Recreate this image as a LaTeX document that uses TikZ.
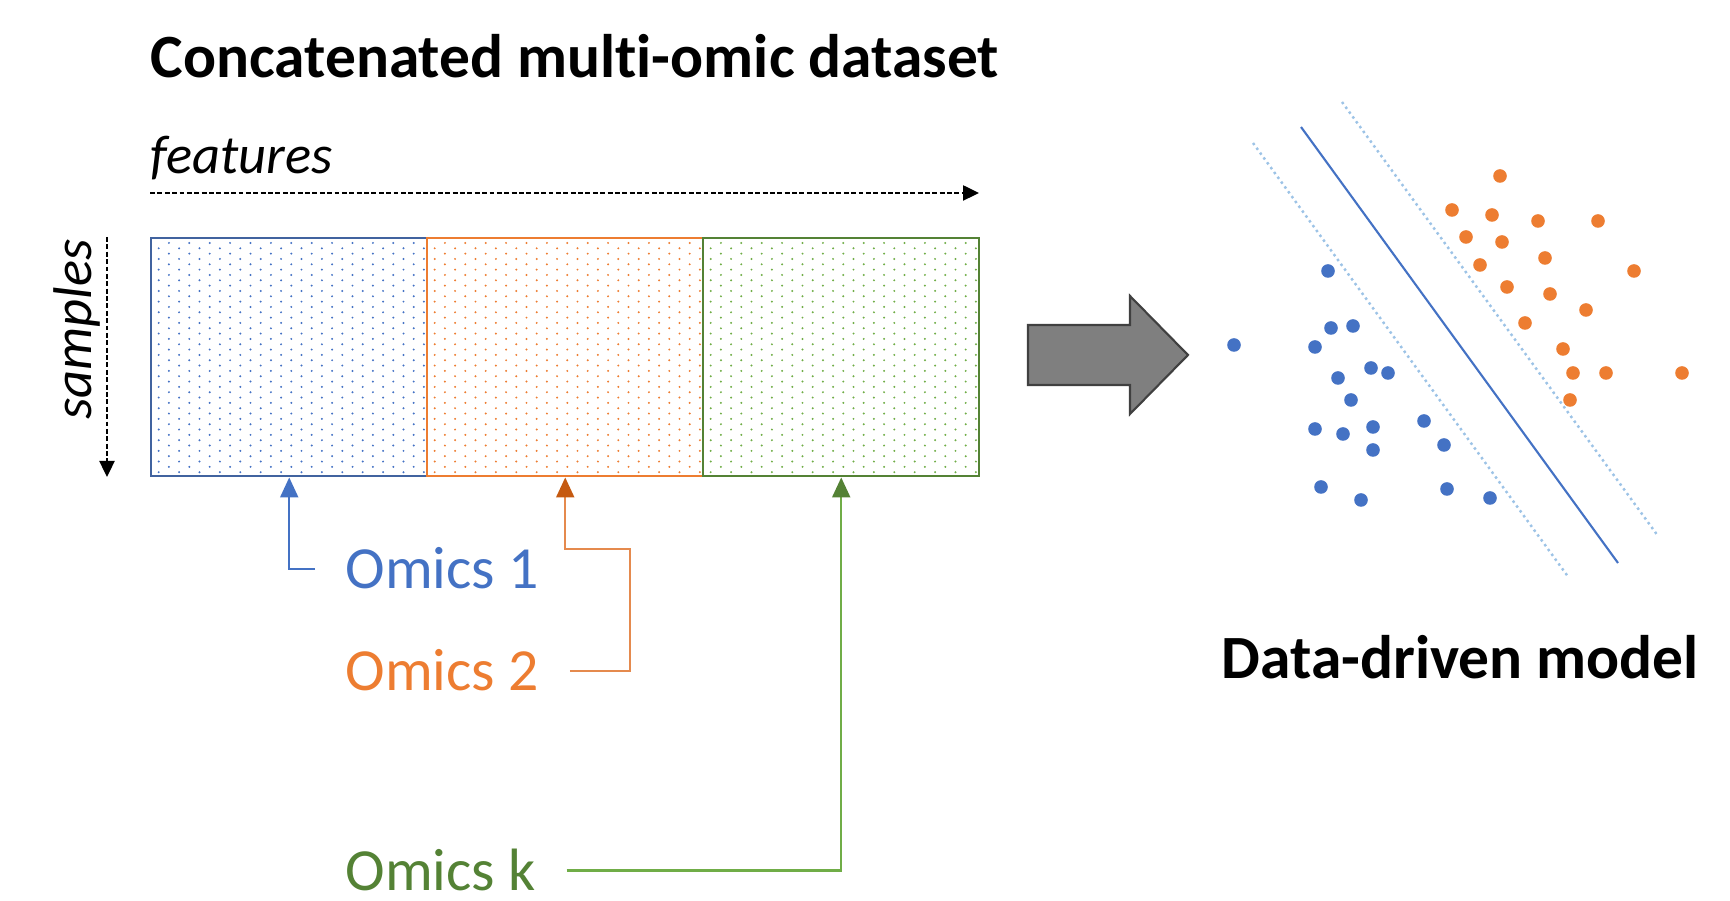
\documentclass[tikz,border=0pt]{standalone}
\usepackage{xcolor}
\usepackage{fontspec}
\setmainfont{Carlito}[Ligatures=NoCommon]
\usepackage{tikz}
\usetikzlibrary{positioning, arrows.meta}

\definecolor{omicblue}{HTML}{4472C4}
\definecolor{omicblueline}{HTML}{41639F}
\definecolor{omicorange}{HTML}{ED7D31}
\definecolor{omicorangedark}{HTML}{C55A11}
\definecolor{omicorangeline}{HTML}{E58A4E}
\definecolor{omicgreen}{HTML}{70AD47}
\definecolor{omicgreendark}{HTML}{548235}
\definecolor{svmlight}{HTML}{9DC3E6}
\definecolor{arrowgray}{HTML}{7F7F7F}

% dotted fill of one block: left x, right x, dot colour
\newcommand{\omicdots}[3]{%
  \begin{scope}
    \clip (#1,237) rectangle (#2,475);
    \foreach \r in {0,...,44}{
      \pgfmathsetmacro{\rowy}{243+5.33*\r}
      \pgfmathsetmacro{\rowx}{#1+8.7+10.2*mod(\r+1,2)}
      \foreach \c in {0,...,13}
        \fill[#3] (\rowx+20.4*\c,\rowy) circle (0.11mm);
    }
  \end{scope}}

\begin{document}
\begin{tikzpicture}[
        x=0.1mm, y=-0.1mm, % one unit = one pixel of the layout
        % --- Customize Your Sizing Globally Right Here ---
        heading/.style={font=\fontsize{17.5}{20}\selectfont\bfseries, inner sep=0, anchor=base west},
        axislabel/.style={font=\fontsize{15.5}{18}\selectfont\itshape, inner sep=0, anchor=base west},
        omiclabel/.style={font=\fontsize{17}{20}\selectfont, inner xsep=3mm, inner ysep=0, anchor=base west},
        omicbox/.style={draw, line width=0.7pt, minimum width=27.6mm, minimum height=23.8mm,
                        anchor=north west, inner sep=0},
        dasharrow/.style={-{Triangle[length=1.6mm, width=1.5mm]}, line width=0.7pt,
                          dash pattern=on 1.4pt off 0.7pt},
        linkarrow/.style={line width=0.6pt},
        svmline/.style={omicblue, line width=0.6pt},
        svmmargin/.style={svmlight, line width=0.7pt, densely dotted}
    ]
    \useasboundingbox (0,0) rectangle (1730,901);

    % ==================== 1. DATASET ====================
    \node[heading] (title) at (150,78) {Concatenated multi-omic dataset};
    \node[axislabel] (features) at (150,174) {features};
    \node[axislabel, rotate=90] (samples) at (92,420) {samples};

    \coordinate (featL) at (150,193);
    \coordinate (featR) at (979,193);
    \coordinate (sampT) at (107,237);
    \coordinate (sampB) at (107,477);
    \draw[dasharrow] (featL) -- (featR);
    \draw[dasharrow] (sampT) -- (sampB);

    % blocks, left to right
    \omicdots{150}{426}{omicblue}
    \omicdots{426}{702}{omicorange}
    \omicdots{702}{979}{omicgreen}
    \node[omicbox, draw=omicblueline]  (omic1) at (150,237) {};
    \node[omicbox, draw=omicorange]    (omic2) at (426,237) {};
    \node[omicbox, draw=omicgreendark] (omic3) at (702,237) {};

    % ==================== 2. OMICS LABELS ====================
    \node[omiclabel, text=omicblue]      (lab1) at (315,589) {Omics 1};
    \node[omiclabel, text=omicorange]    (lab2) at (315,691) {Omics 2};
    \node[omiclabel, text=omicgreendark] (labk) at (315,891) {Omics k};

    \coordinate (bend2) at (630,549);
    \draw[linkarrow, omicblue, -{Triangle[length=2mm, width=1.8mm]}]
        (lab1.west) -| (omic1.south);
    \draw[linkarrow, omicorangeline, -{Triangle[length=2mm, width=1.8mm, color=omicorangedark]}]
        (lab2.east) -| (bend2) -| (omic2.south);
    \draw[linkarrow, omicgreen, -{Triangle[length=2mm, width=1.8mm, color=omicgreendark]}]
        (labk.east) -| (omic3.south);

    % ==================== 3. BLOCK ARROW ====================
    \draw[fill=arrowgray, draw=black!75, line width=0.6pt]
        (1028,325) -- (1130,325) -- (1130,296) -- (1188,355)
        -- (1130,414) -- (1130,385) -- (1028,385) -- cycle;

    % ==================== 4. MODEL ====================
    \draw[svmmargin] (1253,143) -- (1569,578);
    \draw[svmline]   (1301,127) -- (1618,563);
    \draw[svmmargin] (1342,102) -- (1658,536);

    \foreach \px/\py in {1328/271, 1234/345, 1331/328, 1353/326, 1315/347,
                         1371/368, 1388/373, 1338/378, 1351/400, 1315/429,
                         1343/434, 1373/427, 1373/450, 1424/421, 1444/445,
                         1321/487, 1361/500, 1447/489, 1490/498}
        \fill[omicblue] (\px,\py) circle (0.68mm);

    \foreach \px/\py in {1500/176, 1452/210, 1492/215, 1538/221, 1598/221,
                         1466/237, 1502/242, 1545/258, 1634/271, 1480/265,
                         1507/287, 1550/294, 1586/310, 1525/323, 1563/349,
                         1573/373, 1606/373, 1682/373, 1570/400}
        \fill[omicorange] (\px,\py) circle (0.68mm);

    \node[heading] (model) at (1221,679) {Data-driven model};

\end{tikzpicture}
\end{document}
